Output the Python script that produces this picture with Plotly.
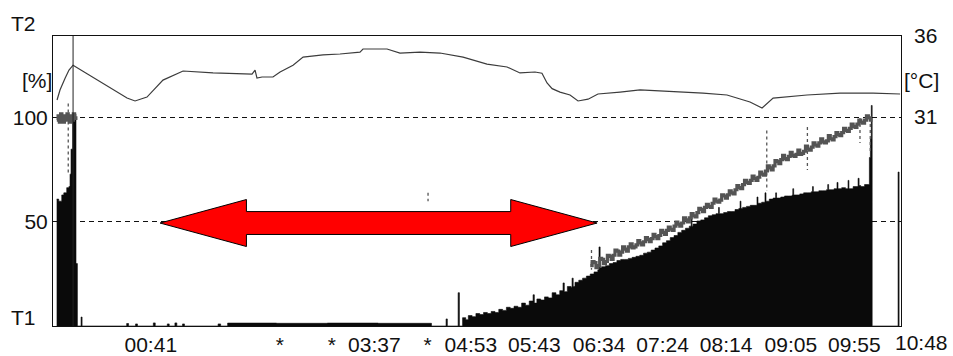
import plotly.graph_objects as go

# Time is given in minutes after midnight (negative values fall before midnight).

# T1 channel, percent (black filled histogram)
T1_TIME = [
    -33.1, -31.5, -29.1, -27.5, -25.2, -23.5, -22.6, -21.8, -20.5, -19.3, -18.5, -17.9, -16.8,
    -13.9, -13.1,
    22.0, 23.5, 29.0, 30.5, 43.0, 44.5, 54.0, 55.5, 60.0, 61.5, 66.0, 67.5, 94.0, 96.0,
    101.5, 140.0, 180.0, 220.0, 262.0,
    273.5, 274.5, 283.0, 284.0,
    286.5, 289, 291, 294, 297, 300, 303, 306, 309, 312,
    315, 318, 321, 324, 327, 330, 333, 336, 339, 342,
    343, 345, 348, 351, 354, 357, 360, 363, 365.6, 366.6,
    369, 372, 372.7, 373.6, 375, 378, 381, 384, 387, 390,
    393, 393.9, 394.8, 396, 399, 402, 405, 408, 411, 414,
    417, 420, 423, 426, 429, 432, 435, 438, 441, 444,
    447, 450, 453, 456, 459, 462, 465, 466.5, 467.2, 468,
    471, 474, 477, 480, 483, 486, 488, 488.7, 492, 495,
    498, 501, 504, 505, 505.7, 507, 510, 513, 516, 518.3,
    519.1, 522, 524.6, 525.4, 528, 531, 533, 533.7, 537, 540,
    543, 546, 546.5, 547.2, 549, 552, 555, 558, 561, 562,
    562.7, 567, 570, 573, 574, 574.7, 579, 581.3, 582.1, 585,
    588, 590, 590.7, 594, 597, 597.9, 598.7, 600, 603, 606,
    606.8, 607.6, 608.3, 609.0, 629.4, 630.2]
T1_VALUE = [
    61, 60, 63, 64, 66.5, 67, 73, 85, 101, 99, 102, 30, 0,
    4.3, 0,
    1.2, 0, 1.0, 0, 1.5, 0, 1.0, 0, 1.5, 0, 1.0, 0, 1.0, 0,
    1.4, 1.3, 1.4, 1.3, 0,
    3.4, 0, 16, 0,
    4, 3, 5, 4.5, 6, 5.5, 6.5, 6, 7, 6.5,
    8, 7.5, 9, 8.5, 9.5, 9, 11, 10, 12, 15,
    11, 13, 12.5, 14, 13.5, 16, 15, 17, 20.7, 16.5,
    19, 18.5, 23, 19, 21, 22, 23, 24, 25, 26,
    27, 38, 28, 28.5, 29, 30, 30.5, 31.5, 32, 32,
    32.5, 33, 33.5, 34, 35, 35.5, 36.5, 37.5, 38.5, 40,
    41, 42.5, 43.5, 45, 46, 47, 48, 53, 48, 49,
    50.5, 51, 52, 53, 53.5, 54, 57, 54, 54.5, 55,
    55, 56, 56.5, 60, 56.5, 57, 57.5, 58, 58, 62,
    59, 59.5, 64, 60, 61, 61.5, 64, 61.5, 62, 62.5,
    62.5, 63, 66, 63, 63, 63.5, 64, 64, 64.5, 67,
    64.5, 65, 65, 65.5, 68, 65.5, 66, 69, 66, 66.5,
    66, 70, 66, 67, 67, 71, 67.5, 67, 68, 68,
    81, 90, 106, 0, 74, 0]

# T2 channel, percent (dark grey trace)
T2_TIME = [
    -33, -32, -31, -30, -29, -28, -27, -26, -25, -24, -23, -22, -21, -20, -19, -18, None,
    387, 388.5, 390, 391.5, 393, 394.5, 396, 397.5, 399, 400.5,
    402, 403.5, 405, 406.5, 408, 409.5, 411, 412.5, 414, 415.5,
    417, 418.5, 420, 421.5, 423, 424.5, 426, 427.5, 429, 430.5,
    432, 433.5, 435, 436.5, 438, 439.5, 441, 442.5, 444, 445.5,
    447, 448.5, 450, 451.5, 453, 454.5, 456, 457.5, 459, 460.5,
    462, 463.5, 465, 466.5, 468, 469.5, 471, 472.5, 474, 475.5,
    477, 478.5, 480, 481.5, 483, 484.5, 486, 487.5, 489, 490.5,
    492, 493.5, 495, 496.5, 498, 499.5, 501, 502.5, 504, 505.5,
    507, 508.5, 510, 511.5, 513, 514.5, 516, 517.5, 519, 520.5,
    522, 523.5, 525, 526.5, 528, 529.5, 531, 532.5, 534, 535.5,
    537, 538.5, 540, 541.5, 543, 544.5, 546, 547.5, 549, 550.5,
    552, 553.5, 555, 556.5, 558, 559.5, 561, 562.5, 564, 565.5,
    567, 568.5, 570, 571.5, 573, 574.5, 576, 577.5, 579, 580.5,
    582, 583.5, 585, 586.5, 588, 589.5, 591, 592.5, 594, 595.5,
    597, 598.5, 600, 601.5, 603, 604.5, 606, 607.5, 608]
T2_VALUE = [
    99, 101, 98, 102, 100, 98, 101, 99, 102, 100, 98, 101, 99, 102, 100, 99, None,
    29, 31, 30.5, 28, 29, 32.5, 32, 30, 31, 34,
    33.5, 32, 34, 36.5, 36, 34, 35.5, 38, 37, 36,
    38, 39.5, 37.5, 38, 39, 41, 40, 39, 40.5, 42.5,
    41.5, 40.5, 42, 44, 43, 42, 43.5, 46, 45, 44,
    46, 47.5, 46.5, 46, 48, 50, 49, 48, 49.5, 52,
    51, 50, 52, 54, 53, 52.5, 54.5, 56.5, 56, 55,
    57, 58.5, 57.5, 57, 59, 61, 60, 59.5, 60.5, 63,
    62.5, 61.5, 63, 65, 64, 63.5, 65.5, 67.5, 66.5, 66,
    68, 70, 69, 68.5, 70, 72, 71, 70, 71.5, 74,
    73, 72.5, 74.5, 77, 76, 75, 77, 79.5, 79, 78,
    80, 82, 80.5, 80, 81.5, 83.5, 82, 81.5, 82.5, 84.5,
    82.5, 83, 84, 86.5, 85, 84.5, 86, 88, 87, 86.5,
    88, 90, 88.5, 88, 89, 91.5, 90, 89.5, 91, 93,
    92, 91.5, 93, 95, 94, 93.5, 95, 97, 96, 95.5,
    97, 99, 98, 97.5, 99, 101, 100, 99, 100]

# Short T2 dropouts: time, upper and lower value
DROP_TIME = [-24.0, 259.3, 388.0, 526.0, 558.0, 599.4, 607.5]
DROP_HIGH = [107, 64, 36.5, 94, 95.7, 100, 100]
DROP_LOW = [73.5, 60, 27, 65, 75, 88, 83]

# Temperature, degrees C (right axis)
TEMP_TIME = [-32.8, -30.5, -26.5, -23.4, -20.2, 22.3, 28.6, 38.0, 50.6, 66.4, 90.0, 113.6,
             120.7, 123.1, 124.6, 128.6, 137.2, 142.8, 153.0, 160.9, 176.6, 190.0, 205.7,
             208.1, 227.0, 237.2, 253.0, 268.7, 286.9, 305.7, 321.5, 331.7, 343.5, 349.0,
             353.0, 357.0, 363.2, 371.1, 377.4, 385.3, 393.1, 410.5, 426.2, 475.8, 494.7,
             512.8, 522.3, 531.0, 557.7, 583.7, 609.7, 631.0]
TEMP_VALUE = [32.05, 32.67, 33.4, 33.9, 34.2, 32.17, 31.99, 32.23, 33.28, 33.84, 33.72, 33.65,
              33.65, 33.9, 33.4, 33.47, 33.47, 33.78, 34.2, 34.7, 34.83, 34.89, 35.01,
              35.2, 35.2, 34.95, 35.0, 34.95, 34.7, 34.27, 34.09, 33.72, 33.78, 33.7,
              33.1, 32.75, 32.54, 32.36, 31.99, 32.1, 32.42, 32.54, 32.67, 32.48, 32.36,
              31.93, 31.56, 32.17, 32.36, 32.48, 32.48, 32.42]

# Time axis labels
TICK_TIME = [41, 142.6, 183.5, 217, 259, 293, 343, 394, 444, 494, 545, 595]
TICK_TEXT = ["00:41", "*", "*", "03:37", "*", "04:53", "05:43", "06:34", "07:24", "08:14",
             "09:05", "09:55"]
END_TIME, END_TEXT = 648, "10:48"

X_RANGE = [-36.0, 631.7]
Y_RANGE = [0, 139.4]
T_RANGE = [18.1, 36.001]

MARKER_TIME = -20.2
ARROW_FROM, ARROW_TO, ARROW_LEVEL = 48.3, 392.4, 49.5

assert len(T1_TIME) == len(T1_VALUE)
assert len(T2_TIME) == len(T2_VALUE)
assert len(TEMP_TIME) == len(TEMP_VALUE)

FONT = "Liberation Sans, Arial, sans-serif"
SIZE = 21

fig = go.Figure()

fig.add_trace(go.Scatter(
    x=T1_TIME, y=T1_VALUE, mode="lines",
    line=dict(color="#0a0a0a", width=0.6, shape="hv"),
    fill="tozeroy", fillcolor="#0a0a0a", hoverinfo="skip", showlegend=False))

drop_x, drop_y = [], []
for t, hi, lo in zip(DROP_TIME, DROP_HIGH, DROP_LOW):
    drop_x += [t, t, None]
    drop_y += [hi, lo, None]
fig.add_trace(go.Scatter(
    x=drop_x, y=drop_y, mode="lines",
    line=dict(color="#555555", width=1.3, dash="3px,3px"),
    hoverinfo="skip", showlegend=False))

fig.add_trace(go.Scatter(
    x=T2_TIME, y=T2_VALUE, mode="lines",
    line=dict(color="#545454", width=3.2, shape="hv"),
    connectgaps=False, hoverinfo="skip", showlegend=False))

fig.add_trace(go.Scatter(
    x=TEMP_TIME, y=TEMP_VALUE, mode="lines", yaxis="y2",
    line=dict(color="#3c3c3c", width=1.2),
    hoverinfo="skip", showlegend=False))

# Double-headed arrow along the 50 % level
head = 68.0
hh, sh = 11.3, 5.5
a0, a1, lv = ARROW_FROM, ARROW_TO, ARROW_LEVEL
pts = [(a0, lv), (a0 + head, lv + hh), (a0 + head, lv + sh), (a1 - head, lv + sh),
       (a1 - head, lv + hh), (a1, lv), (a1 - head, lv - hh), (a1 - head, lv - sh),
       (a0 + head, lv - sh), (a0 + head, lv - hh)]
path = "M " + " L ".join(f"{x},{y}" for x, y in pts) + " Z"
fig.add_shape(type="path", path=path, xref="x", yref="y",
              fillcolor="#ff0000", line=dict(color="#000000", width=1), layer="above")

# Cursor line
fig.add_shape(type="line", xref="x", yref="paper", x0=MARKER_TIME, x1=MARKER_TIME, y0=0, y1=1,
              line=dict(color="#222222", width=1), layer="above")

axis_font = dict(family=FONT, size=SIZE, color="#111111")

fig.update_layout(
    width=953, height=356,
    margin=dict(l=53, r=52, t=36, b=30),
    paper_bgcolor="white", plot_bgcolor="white",
    font=axis_font,
    xaxis=dict(range=X_RANGE, tickvals=TICK_TIME, ticktext=TICK_TEXT, showgrid=False,
               zeroline=False, showline=True, mirror=True, linecolor="#111111", linewidth=1,
               ticks="", tickfont=axis_font, tickangle=0, automargin=False),
    yaxis=dict(range=Y_RANGE, tickvals=[50, 100], ticktext=["50", "100"], showgrid=True,
               gridcolor="#111111", gridwidth=1, griddash="5px,4px", zeroline=False,
               showline=True, mirror=True, linecolor="#111111", linewidth=1, ticks="",
               tickfont=axis_font, automargin=False),
    yaxis2=dict(range=T_RANGE, overlaying="y", side="right", tickvals=[31, 36],
                ticktext=["31", "36"], showgrid=False, zeroline=False, showline=False,
                ticks="", tickfont=axis_font, ticklabelstandoff=12, automargin=False),
)

def px_x(p):
    return (p - 53) / 848

def px_y(p):
    return (326 - p) / 290

for text, x, y in [("T2", 23, 23), ("[%]", 37, 80), ("T1", 23, 317), ("[°C]", 921, 80)]:
    fig.add_annotation(text=text, xref="paper", yref="paper", x=px_x(x), y=px_y(y),
                       xanchor="center", yanchor="middle", showarrow=False, font=axis_font)

fig.add_annotation(text=END_TEXT, xref="paper", yref="paper",
                   x=(END_TIME - X_RANGE[0]) / (X_RANGE[1] - X_RANGE[0]), y=px_y(342),
                   xanchor="center", yanchor="middle", showarrow=False, font=axis_font)

fig.write_html("out.html")
